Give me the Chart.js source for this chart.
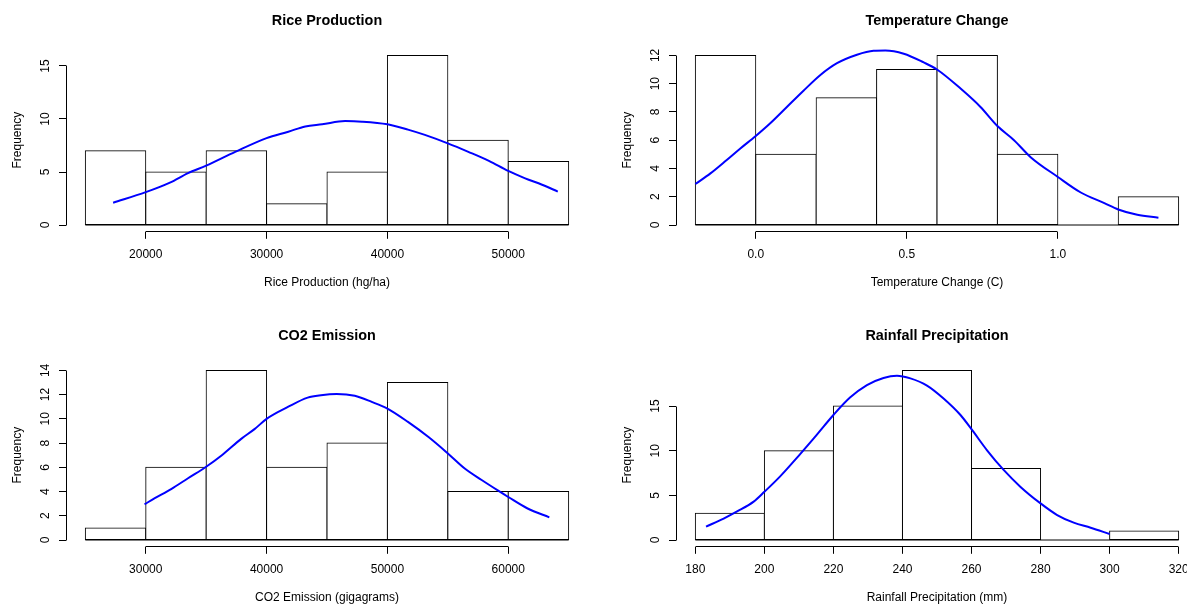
<!DOCTYPE html>
<html>
<head>
<meta charset="utf-8">
<title>Histograms</title>
<script src="https://cdn.jsdelivr.net/npm/chart.js@4.4.1/dist/chart.umd.min.js"></script>
<style>
    html, body { margin: 0; padding: 0; background: #fff; overflow: hidden; width: 1187px; height: 605px; }
    canvas.panel { position: absolute; width: 610px; height: 315px; }
</style>
</head>
<body>
<canvas id="riceChart" class="panel" width="610" height="315" style="left:0px;top:0px"></canvas>
<canvas id="tempChart" class="panel" width="610" height="315" style="left:610px;top:0px"></canvas>
<canvas id="co2Chart" class="panel" width="610" height="315" style="left:0px;top:315px"></canvas>
<canvas id="rainChart" class="panel" width="610" height="315" style="left:610px;top:315px"></canvas>
<script>
// Rice production (hg/ha)
const riceEdges = [15000, 20000, 25000, 30000, 35000, 40000, 45000, 50000, 55000];
const riceCounts = [7, 5, 7, 2, 5, 16, 8, 6];
const riceCurveX = [17300, 20000, 22000, 23500, 25000, 27400, 30000, 31800, 33200, 34600, 36500, 37900, 40000, 41700, 43100, 45000, 46700, 48400, 50000, 51400, 52800, 54100];
const riceCurveY = [2.1, 3.1, 4.0, 4.9, 5.6, 6.9, 8.2, 8.8, 9.3, 9.5, 9.8, 9.75, 9.5, 9.0, 8.5, 7.7, 6.9, 6.05, 5.1, 4.4, 3.8, 3.15];
const riceXTicks = [20000, 30000, 40000, 50000];
const riceYTicks = [0, 5, 10, 15];

// Temperature change (C)
const tempEdges = [-0.2, 0.0, 0.2, 0.4, 0.6, 0.8, 1.0, 1.2, 1.4];
const tempCounts = [12, 5, 9, 11, 12, 5, 0, 2];
const tempCurveX = [-0.2, -0.15, -0.096, -0.052, 0.0, 0.048, 0.103, 0.158, 0.213, 0.269, 0.335, 0.39, 0.429, 0.49, 0.556, 0.6, 0.678, 0.744, 0.8, 0.855, 0.91, 1.0, 1.076, 1.154, 1.2, 1.263, 1.333];
const tempCurveY = [2.9, 3.65, 4.6, 5.4, 6.3, 7.2, 8.35, 9.5, 10.6, 11.45, 12.05, 12.33, 12.35, 12.12, 11.5, 11.0, 9.65, 8.35, 7.0, 6.0, 4.8, 3.4, 2.3, 1.55, 1.1, 0.72, 0.52];
const tempXTicks = [0.0, 0.5, 1.0];
const tempYTicks = [0, 2, 4, 6, 8, 10, 12];

// CO2 emission (gigagrams)
const co2Edges = [25000, 30000, 35000, 40000, 45000, 50000, 55000, 60000, 65000];
const co2Counts = [1, 6, 14, 6, 8, 13, 4, 4];
const co2CurveX = [29900, 30750, 32100, 33500, 35000, 36300, 37900, 39000, 40000, 41800, 43400, 44500, 45800, 47300, 48700, 50000, 51700, 53400, 55000, 56400, 57800, 59200, 60000, 61600, 63400];
const co2CurveY = [2.95, 3.45, 4.2, 5.1, 6.05, 7.0, 8.35, 9.15, 10.0, 11.0, 11.75, 11.95, 12.05, 11.9, 11.4, 10.85, 9.75, 8.5, 7.15, 5.9, 4.95, 4.05, 3.55, 2.6, 1.87];
const co2XTicks = [30000, 40000, 50000, 60000];
const co2YTicks = [0, 2, 4, 6, 8, 10, 12, 14];

// Rainfall precipitation (mm)
const rainEdges = [180, 200, 220, 240, 260, 280, 300, 320];
const rainCounts = [3, 10, 15, 19, 8, 0, 1];
const rainCurveX = [183.1, 188.2, 192.1, 196.9, 200, 204.5, 210.3, 215.1, 220, 224.8, 229.7, 234.5, 238.4, 242.3, 247.1, 251.9, 256.8, 260.2, 264.5, 269.3, 274.2, 280, 284.8, 289.6, 294.5, 300];
const rainCurveY = [1.5, 2.4, 3.2, 4.3, 5.4, 7.1, 9.6, 11.75, 14.0, 15.95, 17.35, 18.15, 18.4, 18.1, 17.3, 15.85, 14.0, 12.3, 10.05, 7.85, 5.95, 4.1, 2.8, 1.95, 1.38, 0.67];
const rainXTicks = [180, 200, 220, 240, 260, 280, 300, 320];
const rainYTicks = [0, 5, 10, 15];

const FONT = "'Liberation Sans', Arial, sans-serif";

function alignPx(v) {
    return Math.round(v - 0.5) + 0.5;
}

// R style axes: line runs only from first to last tick,
// plus the histogram baseline under every bin (also empty ones)
const rAxisPlugin = {
    id: 'rAxisLines',
    beforeDatasetsDraw(chart, args, opts) {
        const { ctx, scales } = chart;
        const edges = opts.edges || [];
        if (edges.length < 2) return;
        ctx.save();
        ctx.strokeStyle = '#000';
        ctx.lineWidth = 1;
        ctx.beginPath();
        // same (unaligned) position as the bars' bottom borders
        const y0 = scales.y.getPixelForValue(0);
        ctx.moveTo(scales.x.getPixelForValue(edges[0]), y0);
        ctx.lineTo(scales.x.getPixelForValue(edges[edges.length - 1]), y0);
        ctx.stroke();
        ctx.restore();
    },
    afterDraw(chart) {
        const { ctx, chartArea, scales } = chart;
        const xs = scales.x, ys = scales.y;
        const xt = xs.ticks, yt = ys.ticks;
        ctx.save();
        ctx.strokeStyle = '#000';
        ctx.lineWidth = 1;
        ctx.beginPath();
        const by = alignPx(chartArea.bottom);
        ctx.moveTo(alignPx(xs.getPixelForValue(xt[0].value)), by);
        ctx.lineTo(alignPx(xs.getPixelForValue(xt[xt.length - 1].value)), by);
        const lx = alignPx(chartArea.left);
        ctx.moveTo(lx, alignPx(ys.getPixelForValue(yt[0].value)));
        ctx.lineTo(lx, alignPx(ys.getPixelForValue(yt[yt.length - 1].value)));
        ctx.stroke();
        ctx.restore();
    }
};

function createHistogram(canvasId, title, xLabel, edges, counts, curveX, curveY, xTicks, yTicks, xFormat) {
    const span = edges[edges.length - 1] - edges[0];
    const maxCount = Math.max(...counts);
    const bars = counts.map((c, i) => ({ x: (edges[i] + edges[i + 1]) / 2, y: c }));
    const curve = curveX.map((x, i) => ({ x: x, y: curveY[i] }));
    const ctx = document.getElementById(canvasId).getContext('2d');

    return new Chart(ctx, {
        type: 'bar',
        data: {
            datasets: [{
                type: 'line',
                data: curve,
                borderColor: '#0000ff',
                borderWidth: 2,
                pointRadius: 0,
                tension: 0.4,
                cubicInterpolationMode: 'monotone',
                fill: false,
                order: 0
            }, {
                type: 'bar',
                data: bars,
                backgroundColor: '#ffffff',
                borderColor: '#000000',
                borderWidth: 1,
                borderSkipped: false,
                inflateAmount: 0.5,
                barPercentage: 1,
                categoryPercentage: 1,
                order: 1
            }]
        },
        options: {
            responsive: false,
            animation: false,
            events: [],
            layout: { padding: { left: 0, right: 22, top: 0, bottom: 0 } },
            plugins: {
                legend: { display: false },
                tooltip: { enabled: false },
                rAxisLines: { edges: edges },
                title: {
                    display: true,
                    text: title,
                    fullSize: false,
                    color: '#000',
                    font: { family: FONT, size: 14.4, weight: 'bold' },
                    padding: { top: 12.06, bottom: 19.26 }
                }
            },
            scales: {
                x: {
                    type: 'linear',
                    offset: false,
                    min: edges[0] - 0.04 * span,
                    max: edges[edges.length - 1] + 0.04 * span,
                    afterBuildTicks: axis => { axis.ticks = xTicks.map(v => ({ value: v })); },
                    afterFit: axis => { axis.height = 83.2; },
                    border: { display: false },
                    grid: { offset: false, drawOnChartArea: false, drawTicks: true, tickLength: 7, color: '#000', lineWidth: 1 },
                    ticks: {
                        autoSkip: false, maxRotation: 0, minRotation: 0, padding: 9,
                        color: '#000', font: { family: FONT, size: 12 },
                        callback: v => xFormat(v)
                    },
                    title: {
                        display: true, text: xLabel, color: '#000',
                        font: { family: FONT, size: 12 },
                        padding: { top: 0, bottom: 25.1 }
                    }
                },
                y: {
                    type: 'linear',
                    min: -0.04 * maxCount,
                    max: 1.04 * maxCount,
                    afterBuildTicks: axis => { axis.ticks = yTicks.map(v => ({ value: v })); },
                    afterFit: axis => { axis.width = 66; },
                    border: { display: false },
                    grid: { drawOnChartArea: false, drawTicks: true, tickLength: 7, color: '#000', lineWidth: 1 },
                    ticks: {
                        autoSkip: false, minRotation: 90, maxRotation: 90, crossAlign: 'center', padding: 6.6,
                        color: '#000', font: { family: FONT, size: 12 },
                        callback: v => String(v)
                    },
                    title: {
                        display: true, text: 'Frequency', color: '#000',
                        font: { family: FONT, size: 12 },
                        padding: { top: 10.2, bottom: 0 }
                    }
                }
            }
        },
        plugins: [rAxisPlugin]
    });
}

document.addEventListener('DOMContentLoaded', function() {
    createHistogram('riceChart', 'Rice Production', 'Rice Production (hg/ha)',
        riceEdges, riceCounts, riceCurveX, riceCurveY, riceXTicks, riceYTicks, v => String(v));
    createHistogram('tempChart', 'Temperature Change', 'Temperature Change (C)',
        tempEdges, tempCounts, tempCurveX, tempCurveY, tempXTicks, tempYTicks, v => v.toFixed(1));
    createHistogram('co2Chart', 'CO2 Emission', 'CO2 Emission (gigagrams)',
        co2Edges, co2Counts, co2CurveX, co2CurveY, co2XTicks, co2YTicks, v => String(v));
    createHistogram('rainChart', 'Rainfall Precipitation', 'Rainfall Precipitation (mm)',
        rainEdges, rainCounts, rainCurveX, rainCurveY, rainXTicks, rainYTicks, v => String(v));
});
</script>
</body>
</html>
